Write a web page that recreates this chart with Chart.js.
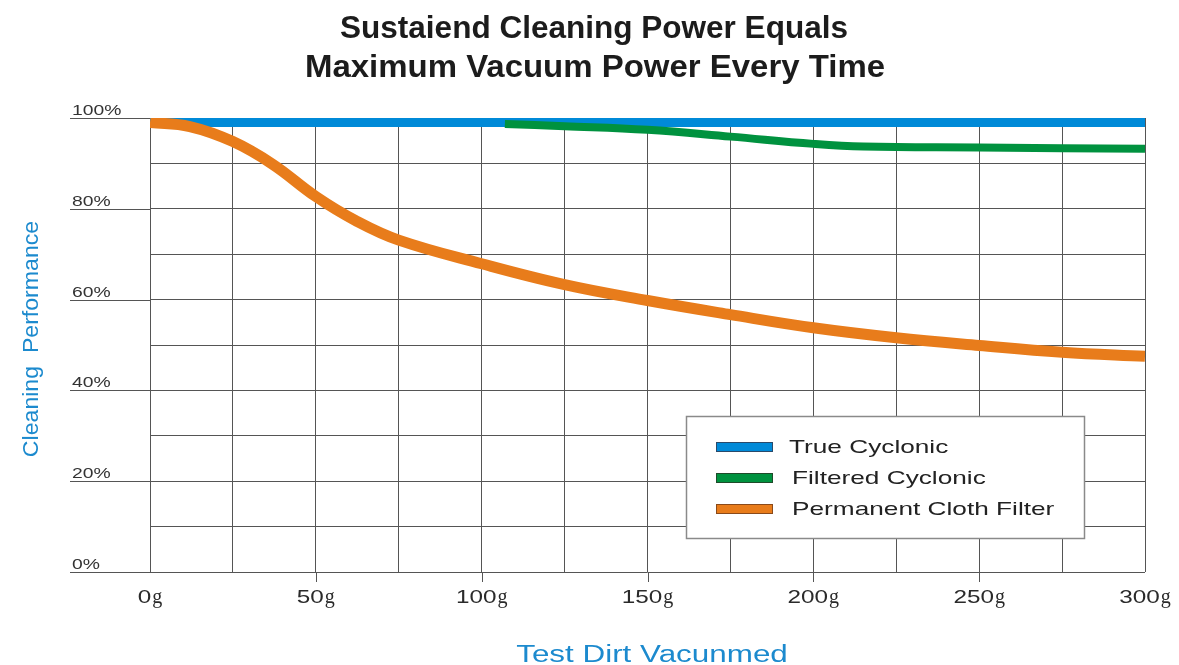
<!DOCTYPE html>
<html>
<head>
<meta charset="utf-8">
<script src="https://cdn.jsdelivr.net/npm/chart.js@4.4.1/dist/chart.umd.min.js"></script>
<style>
  html, body { margin: 0; padding: 0; background: #ffffff; }
  #wrap { width: 1179px; height: 665px; }
</style>
</head>
<body>
<div id="wrap"><canvas id="c" width="1179" height="665"></canvas></div>
<script>
// ---- data ----
const titleLines = ['Sustaiend Cleaning Power Equals', 'Maximum Vacuum Power Every Time'];
const xAxisTitle = 'Test Dirt Vacunmed';
const yAxisTitle = 'Cleaning  Performance';
const seriesLabels = ['True Cyclonic', 'Filtered Cyclonic', 'Permanent Cloth Filter'];
const xTickValues = [0, 50, 100, 150, 200, 250, 300];
const xTickUnit = 'g';
const yTickValues = [0, 20, 40, 60, 80, 100];
const yTickUnit = '%';

const trueX = [0, 300];
const trueY = [99, 99];
const filteredX = [107, 125, 150, 175, 200, 215, 250, 300];
const filteredY = [98.7, 98.2, 97.4, 95.9, 94.3, 93.7, 93.5, 93.2];
const clothX = [0, 12, 25, 37, 50, 62, 75, 100, 125, 150, 175, 200, 225, 250, 275, 300];
const clothY = [99, 98.1, 94.8, 89.8, 82.7, 77.4, 73.1, 67.9, 63.3, 59.8, 56.7, 53.8, 51.6, 49.9, 48.4, 47.5];

const colors = ['rgb(0,138,216)', 'rgb(0,146,63)', 'rgb(232,124,27)'];
const swatchBorders = ['#2a4a6a', '#1f4a2a', '#8a4a1a'];

function pts(xs, ys) { return xs.map((x, i) => ({ x: x, y: ys[i] })); }

function txt(ctx, s, x, y, font, color, sx, align) {
  ctx.save();
  ctx.font = font;
  ctx.fillStyle = color;
  ctx.textBaseline = 'alphabetic';
  ctx.textAlign = 'left';
  const w = ctx.measureText(s).width * sx;
  let x0 = x;
  if (align === 'center') x0 = x - w / 2;
  else if (align === 'right') x0 = x - w;
  ctx.translate(x0, y);
  ctx.scale(sx, 1);
  ctx.fillText(s, 0, 0);
  ctx.restore();
  return w;
}

const decor = {
  id: 'decor',
  afterDraw(chart) {
    const ctx = chart.ctx;
    const xs = chart.scales.x, ys = chart.scales.y;
    const area = chart.chartArea;
    const labelLeft = 70;

    // extended major y lines + labels
    ctx.save();
    ctx.strokeStyle = '#555555';
    ctx.lineWidth = 1;
    yTickValues.forEach(v => {
      const py = Math.round(ys.getPixelForValue(v)) + 0.5;
      ctx.beginPath();
      ctx.moveTo(labelLeft, py);
      ctx.lineTo(area.left, py);
      ctx.stroke();
      txt(ctx, v + yTickUnit, labelLeft + 2, py - 4, '14px "Liberation Sans", Arial, sans-serif', '#333333', 1.38, 'left');
    });
    // x tick marks below axis
    xTickValues.forEach(v => {
      if (v === xs.min || v === xs.max) return;
      const px = Math.round(xs.getPixelForValue(v)) + 0.5;
      ctx.beginPath();
      ctx.moveTo(px, area.bottom);
      ctx.lineTo(px, area.bottom + 10);
      ctx.stroke();
    });
    ctx.restore();

    // x labels: number (sans, wide) + unit (serif)
    xTickValues.forEach(v => {
      const px = xs.getPixelForValue(v);
      ctx.save();
      ctx.font = '18px "Liberation Sans", Arial, sans-serif';
      const wn = ctx.measureText(String(v)).width * 1.35;
      ctx.font = '20px "Liberation Serif", "Times New Roman", serif';
      const wg = ctx.measureText(xTickUnit).width;
      ctx.restore();
      const x0 = px - (wn + wg + 1) / 2;
      txt(ctx, String(v), x0, 603, '18px "Liberation Sans", Arial, sans-serif', '#2a2a2a', 1.35, 'left');
      txt(ctx, xTickUnit, x0 + wn + 1, 603, '20px "Liberation Serif", "Times New Roman", serif', '#2a2a2a', 1, 'left');
    });

    // axis titles
    txt(ctx, xAxisTitle, 652, 662, '23px "Liberation Sans", Arial, sans-serif', 'rgb(28,138,206)', 1.365, 'center');
    ctx.save();
    ctx.translate(38, 339);
    ctx.rotate(-Math.PI / 2);
    txt(ctx, yAxisTitle, 0, 0, '22px "Liberation Sans", Arial, sans-serif', 'rgb(28,138,206)', 1.05, 'center');
    ctx.restore();

    // chart title
    txt(ctx, titleLines[0], 594, 38, 'bold 32px "Liberation Sans", Arial, sans-serif', '#1c1c1c', 0.985, 'center');
    txt(ctx, titleLines[1], 595, 77, 'bold 32px "Liberation Sans", Arial, sans-serif', '#1c1c1c', 1.03, 'center');

    // legend
    const lb = { x: 686, y: 416, w: 398, h: 122 };
    ctx.save();
    ctx.fillStyle = '#ffffff';
    ctx.fillRect(lb.x, lb.y, lb.w, lb.h);
    ctx.strokeStyle = '#8a8a8a';
    ctx.lineWidth = 1.5;
    ctx.strokeRect(lb.x + 0.5, lb.y + 0.5, lb.w, lb.h);
    const rowY = [447, 478, 509];
    const textX = [789, 792, 792];
    seriesLabels.forEach((s, i) => {
      ctx.fillStyle = colors[i];
      ctx.fillRect(716, rowY[i] - 5, 57, 10);
      ctx.strokeStyle = swatchBorders[i];
      ctx.lineWidth = 1;
      ctx.strokeRect(716.5, rowY[i] - 4.5, 56, 9);
      txt(ctx, s, textX[i], rowY[i] + 6, '19px "Liberation Sans", Arial, sans-serif', '#222222', 1.38, 'left');
    });
    ctx.restore();
  }
};

const datasets = [
  { label: seriesLabels[0], data: pts(trueX, trueY), borderColor: colors[0], borderWidth: 9, order: 3 },
  { label: seriesLabels[1], data: pts(filteredX, filteredY), borderColor: colors[1], borderWidth: 8, order: 2, tension: 0.4 },
  { label: seriesLabels[2], data: pts(clothX, clothY), borderColor: colors[2], borderWidth: 11, order: 1, tension: 0.4 }
].map(d => Object.assign({ pointRadius: 0, fill: false, borderCapStyle: 'butt', borderJoinStyle: 'round' }, d));

new Chart(document.getElementById('c'), {
  type: 'line',
  data: { datasets: datasets },
  options: {
    responsive: false,
    animation: false,
    layout: { padding: { left: 150, right: 34, top: 118, bottom: 93 } },
    plugins: { legend: { display: false }, title: { display: false }, tooltip: { enabled: false } },
    scales: {
      x: {
        type: 'linear', min: 0, max: 300,
        ticks: { display: false, stepSize: 25 },
        grid: { color: '#555555', lineWidth: 1, drawTicks: false },
        border: { display: false },
        afterFit(s) { s.height = 0; }
      },
      y: {
        type: 'linear', min: 0, max: 100,
        ticks: { display: false, stepSize: 10 },
        grid: { color: '#555555', lineWidth: 1, drawTicks: false },
        border: { display: false },
        afterFit(s) { s.width = 0; }
      }
    }
  },
  plugins: [decor]
});
</script>
</body>
</html>
